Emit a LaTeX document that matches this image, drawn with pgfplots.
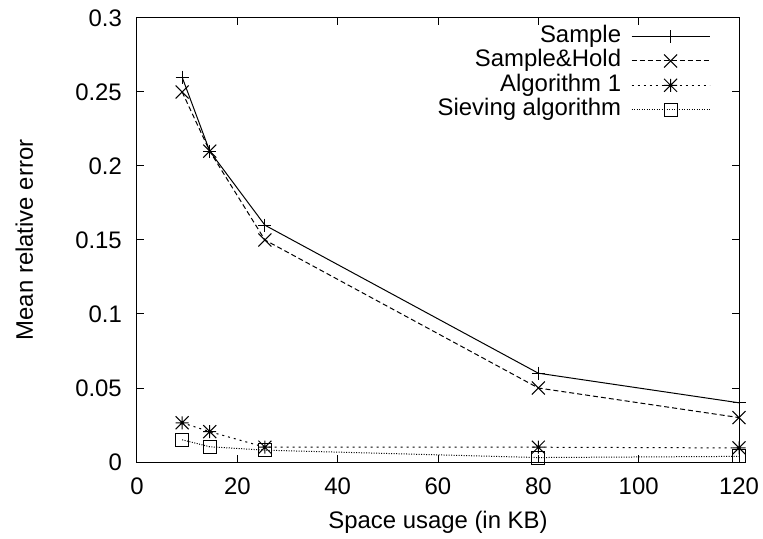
\documentclass[border=0pt]{standalone}
\usepackage{fontspec}
\setmainfont{Liberation Sans}
\usepackage{pgfplots}
\pgfplotsset{compat=1.18}

% gnuplot-like marks: cross with square extent, and + and x together
\pgfdeclareplotmark{gpx}{%
  \pgfpathmoveto{\pgfqpoint{-\pgfplotmarksize}{-\pgfplotmarksize}}%
  \pgfpathlineto{\pgfqpoint{\pgfplotmarksize}{\pgfplotmarksize}}%
  \pgfpathmoveto{\pgfqpoint{-\pgfplotmarksize}{\pgfplotmarksize}}%
  \pgfpathlineto{\pgfqpoint{\pgfplotmarksize}{-\pgfplotmarksize}}%
  \pgfusepathqstroke}
\pgfdeclareplotmark{gpstar}{%
  \pgfpathmoveto{\pgfqpoint{-\pgfplotmarksize}{0pt}}%
  \pgfpathlineto{\pgfqpoint{\pgfplotmarksize}{0pt}}%
  \pgfpathmoveto{\pgfqpoint{0pt}{-\pgfplotmarksize}}%
  \pgfpathlineto{\pgfqpoint{0pt}{\pgfplotmarksize}}%
  \pgfpathmoveto{\pgfqpoint{-\pgfplotmarksize}{-\pgfplotmarksize}}%
  \pgfpathlineto{\pgfqpoint{\pgfplotmarksize}{\pgfplotmarksize}}%
  \pgfpathmoveto{\pgfqpoint{-\pgfplotmarksize}{\pgfplotmarksize}}%
  \pgfpathlineto{\pgfqpoint{\pgfplotmarksize}{-\pgfplotmarksize}}%
  \pgfusepathqstroke}

\begin{document}
\begin{tikzpicture}[font=\fontsize{24}{28}\selectfont]
\begin{axis}[
    at={(0,0)}, anchor=south west,
    scale only axis,
    width=602bp, height=444bp,
    /pgf/number format/assume math mode=true,
    xmin=0, xmax=120, ymin=0, ymax=0.3,
    xtick={0,20,40,60,80,100,120},
    ytick={0,0.05,0.1,0.15,0.2,0.25,0.3},
    yticklabels={0,0.05,0.1,0.15,0.2,0.25,0.3},
    tick align=inside,
    major tick length=7bp,
    every tick/.style={black, line width=1bp},
    axis line style={line width=1bp},
    yticklabel style={inner sep=0pt, xshift=-15bp},
    xticklabel style={inner sep=0pt, yshift=-16bp},
    xlabel={Space usage (in KB)},
    ylabel={Mean relative error},
    every axis x label/.style={at={(axis description cs:0.5,0)}, anchor=base, yshift=-66bp},
    every axis y label/.style={at={(axis description cs:0,0.5)}, rotate=90, anchor=base, yshift=104bp},
    clip mode=individual,
    legend plot pos=right,
    legend cell align=right,
    legend style={
        at={(axis description cs:0.952,0.983)}, anchor=north east,
        draw=none, fill=none, inner sep=0pt, outer sep=0pt,
        nodes={inner sep=0pt, text height=17bp, text depth=5bp},
        row sep=2.4bp,
        /tikz/every odd column/.append style={column sep=10bp},
    },
    legend image code/.code={
        \draw[mark repeat=2,mark phase=2,#1] plot coordinates {(0bp,0bp) (39bp,0bp) (78bp,0bp)};
    },
    every axis plot/.append style={black, line width=1bp, mark options={solid, line width=1bp}},
]
\addplot[solid, mark=+, mark size=6.5bp] coordinates {(9,0.26) (14.5,0.21) (25.5,0.16) (80,0.06) (120,0.04)};
\addplot[dash pattern=on 5bp off 3bp, mark=gpx, mark size=6.5bp] coordinates {(9,0.25) (14.5,0.21) (25.5,0.15) (80,0.05) (120,0.03)};
\addplot[dash pattern=on 2bp off 4bp, mark=gpstar, mark size=6.5bp] coordinates {(9,0.0265) (14.5,0.0205) (25.5,0.010) (80,0.010) (120,0.0095)};
\addplot[dash pattern=on 1bp off 1.5bp, mark=square, mark size=6.5bp] coordinates {(9,0.015) (14.5,0.0103) (25.5,0.008) (80,0.003) (120,0.0038)};
\legend{Sample, Sample\&Hold, Algorithm 1, Sieving algorithm}
\end{axis}
\pgfresetboundingbox
\useasboundingbox (-137bp,-77bp) rectangle (626bp,462bp);
\end{tikzpicture}
\end{document}
